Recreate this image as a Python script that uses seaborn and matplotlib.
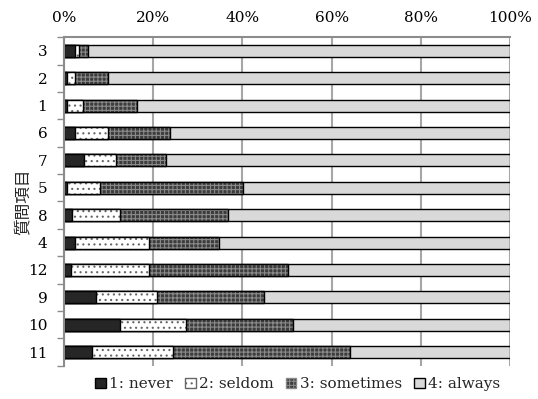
import matplotlib
matplotlib.use("Agg")
import matplotlib.pyplot as plt
import numpy as np
import pandas as pd
import seaborn as sns
from matplotlib.patches import Patch
from matplotlib.ticker import FixedLocator, PercentFormatter

# question items, top to bottom
items = ["3", "2", "1", "6", "7", "5", "8", "4", "12", "9", "10", "11"]

# share of answers per item (%)
never = [2.5, 0.7, 0.7, 2.4, 4.4, 0.7, 1.7, 2.5, 1.6, 7.2, 12.6, 6.2]
seldom = [0.8, 1.7, 3.6, 7.4, 7.2, 7.3, 10.9, 16.6, 17.5, 13.6, 14.7, 18.2]
sometimes = [2.1, 7.5, 12.1, 14.0, 11.2, 32.2, 24.1, 15.7, 31.2, 24.0, 24.0, 39.8]
always = [100 - a - b - c for a, b, c in zip(never, seldom, sometimes)]

labels = ["1: never", "2: seldom", "3: sometimes", "4: always"]

sns.set_theme(style="white")
plt.rcParams["font.family"] = ["DejaVu Serif", "Noto Sans CJK JP"]
plt.rcParams["hatch.linewidth"] = 0.8

df = pd.DataFrame({"item": items, "never": never, "seldom": seldom,
                   "sometimes": sometimes, "always": always})
df["c1"] = df["never"]
df["c2"] = df["c1"] + df["seldom"]
df["c3"] = df["c2"] + df["sometimes"]
df["c4"] = df["c3"] + df["always"]

fig = plt.figure(figsize=(5.38, 3.99), dpi=100)
ax = fig.add_axes([0.119, 0.083, 0.829, 0.824])

# layers drawn from the widest cumulative bar down to the narrowest
layers = [
    ("c4", "#d9d9d9", None, "#d9d9d9"),
    ("c3", "#3c3c3c", "++++", "#8a8a8a"),
    ("c2", "#ffffff", "...", "#666666"),
    ("c1", "#262626", None, "#262626"),
]
bar_w = 0.44
for col, face, hatch, hcol in layers:
    n_before = len(ax.patches)
    sns.barplot(data=df, x=col, y="item", order=items, orient="h",
                color=face, width=bar_w, saturation=1, ax=ax, errorbar=None)
    for p in ax.patches[n_before:]:
        p.set_facecolor(face)
        p.set_edgecolor(hcol)
        p.set_linewidth(0)
        if hatch:
            p.set_hatch(hatch)
    n_before = len(ax.patches)
    sns.barplot(data=df, x=col, y="item", order=items, orient="h",
                width=bar_w, fill=False, ax=ax, errorbar=None)
    for p in ax.patches[n_before:]:
        p.set_edgecolor("black")
        p.set_linewidth(1.0)
        p.set_facecolor("none")

ax.set_xlim(0, 100)
ax.set_ylim(len(items) - 0.5, -0.5)
ax.xaxis.set_major_locator(FixedLocator([0, 20, 40, 60, 80, 100]))
ax.xaxis.set_major_formatter(PercentFormatter(decimals=0))
ax.xaxis.tick_top()
ax.xaxis.set_label_position("top")
ax.tick_params(axis="x", length=0, pad=9, labelsize=11, colors="black")
ax.grid(axis="x", color="#a6a6a6", linewidth=1.5)
ax.set_axisbelow(True)

ax.yaxis.set_minor_locator(FixedLocator(np.arange(-0.5, len(items), 1)))
ax.tick_params(axis="y", which="major", length=0, pad=12, labelsize=11,
               labelcolor="black")
ax.tick_params(axis="y", which="minor", left=True, length=5, width=1,
               color="#8c8c8c")

for side in ["right", "bottom"]:
    ax.spines[side].set_visible(False)
for side in ["top", "left"]:
    ax.spines[side].set_color("#8c8c8c")
    ax.spines[side].set_linewidth(1.5)

ax.set_xlabel("")
ax.set_ylabel("質問項目", family=["Noto Sans CJK JP"], fontsize=12, labelpad=-3)

handles = [
    Patch(facecolor="#262626", edgecolor="black"),
    Patch(facecolor="white", edgecolor="#666666", hatch="..."),
    Patch(facecolor="#3c3c3c", edgecolor="#8a8a8a", hatch="++++"),
    Patch(facecolor="#d9d9d9", edgecolor="black"),
]
fig.legend(handles, labels, loc="lower center", bbox_to_anchor=(0.553, -0.015),
           ncol=4, frameon=False, fontsize=11, handlelength=0.7,
           handleheight=0.7, handletextpad=0.2, columnspacing=0.8)

fig.savefig("out.png", dpi=100)
